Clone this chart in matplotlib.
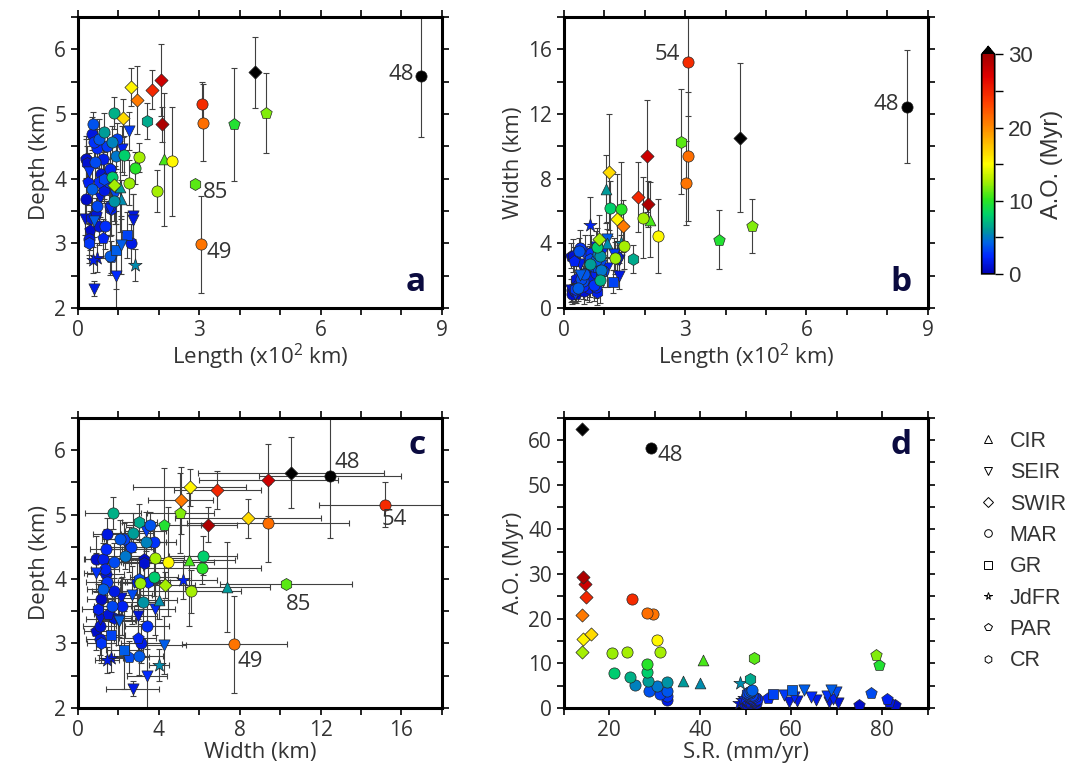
import numpy as np
import matplotlib
matplotlib.use('Agg')
import matplotlib.pyplot as plt
from matplotlib.colors import LinearSegmentedColormap, Normalize
from matplotlib.lines import Line2D
from matplotlib.ticker import MultipleLocator

plt.rcParams['font.family'] = ['Open Sans', 'DejaVu Sans']
plt.rcParams['mathtext.default'] = 'regular'
plt.rcParams['font.size'] = 13

# ridge of each segment
ridge = ['SWIR'] * 8 + ['CIR'] * 3 + ['MAR'] * 39 + ['CR'] * 8 + ['SEIR'] * 13 + \
        ['PAR'] * 8 + ['GR'] * 2 + ['JdFR'] * 4

# length (x100 km)
length = [4.37, 2.05, 2.08, 1.84, 1.46, 1.32, 1.11, 0.88,
          2.13, 1.05, 1.07,
          8.48, 3.07, 3.08, 3.03, 2.32, 1.96, 1.50, 1.26, 1.41, 1.14, 0.83, 0.89, 0.64,
          0.85, 0.93, 0.90,
          0.37, 0.97, 0.51, 0.39, 1.32,
          0.35, 0.47, 0.72, 0.21, 0.62, 0.43, 0.80, 0.57, 0.76, 0.35, 0.64, 0.21, 0.47,
          0.80, 0.51, 0.68, 0.27, 0.80,
          2.90, 1.70, 0.27, 0.82, 0.23, 0.52, 0.64, 0.31,
          1.25, 1.37, 1.36, 1.07, 0.95, 0.40, 0.28, 0.39, 0.91, 0.55, 0.18, 1.08, 0.80,
          4.66, 3.85, 0.62, 0.81, 0.19, 0.25, 0.45, 0.30,
          1.22, 0.93,
          1.41, 0.36, 0.48, 0.64]

# depth (km)
depth = [5.65, 5.53, 4.84, 5.38, 5.22, 5.42, 4.94, 3.91,
         4.30, 3.88, 3.68,
         5.59, 5.15, 4.87, 2.99, 4.27, 3.81, 4.33, 3.94, 4.17, 4.36, 4.03, 5.02, 4.72,
         4.57, 4.35, 3.65,
         4.84, 4.62, 4.62, 4.57, 3.00,
         4.70, 4.47, 4.50, 4.31, 4.31, 4.26, 4.15, 4.07, 3.95, 3.84, 3.82, 3.69, 3.58,
         3.58, 3.27, 3.27, 3.07, 2.81,
         3.92, 4.89, 3.00, 3.53, 4.25, 3.95, 4.00, 3.40,
         4.74, 3.42, 3.37, 2.97, 2.50, 2.30, 4.10, 3.35, 3.75, 3.71, 3.38, 4.46, 3.53,
         5.02, 4.84, 3.08, 2.79, 4.31, 3.95, 3.45, 3.20,
         3.13, 2.90,
         2.67, 2.75, 2.78, 3.99]

# width (km)
width = [10.55, 9.42, 6.44, 6.88, 5.08, 5.52, 8.42, 4.28,
         5.48, 7.38, 4.00,
         12.47, 15.20, 9.39, 7.74, 4.45, 5.58, 3.83, 3.08, 6.14, 6.18, 3.76, 1.74, 2.70,
         3.34, 2.35, 3.24,
         3.54, 2.28, 2.10, 3.74, 3.13,
         1.45, 1.37, 2.60, 0.88, 1.26, 1.80, 1.33, 1.37, 1.42, 1.26, 1.79, 1.13, 1.70,
         2.20, 1.07, 3.41, 1.08, 3.00,
         10.28, 3.04, 1.16, 1.00, 3.25, 3.45, 3.04, 1.80,
         3.34, 2.99, 2.00, 4.25, 3.42, 2.71, 0.90, 2.05, 2.68, 2.13, 1.10, 2.50, 3.79,
         5.07, 4.24, 2.95, 2.53, 3.25, 2.90, 1.50, 0.90,
         1.63, 2.30,
         4.00, 1.42, 1.64, 5.17]

# spreading rate (mm/yr)
spread = [14.0, 14.7, 14.3, 14.9, 14.0, 14.2, 16.0, 14.0,
          40.5, 36.3, 39.9,
          29.2, 25.1, 28.4, 29.7, 30.6, 31.1, 23.8, 20.5, 28.4, 28.4, 21.1, 24.5, 28.6,
          25.7, 30.6, 32.7,
          28.8, 31.1, 32.7, 32.7, 32.8,
          50.5, 51.0, 51.3, 50.0, 51.6, 50.8, 51.1, 52.2, 50.2, 51.4, 51.9, 50.6, 51.0,
          52.5, 50.9, 51.7, 50.4, 51.2,
          51.9, 51.0, 50.7, 51.5, 49.8, 52.0, 50.3, 51.8,
          58.5, 59.6, 61.2, 62.9, 64.4, 65.5, 67.8, 68.8, 69.9, 68.4, 70.2, 69.1, 60.5,
          78.6, 79.3, 54.8, 77.6, 74.9, 81.1, 81.5, 82.9,
          55.9, 60.2,
          48.7, 49.2, 48.6, 49.6]

# age offset (Myr)
age_off = [62.5, 27.8, 29.3, 24.8, 20.8, 15.4, 16.6, 12.6,
           10.7, 6.0, 5.6,
           58.3, 24.5, 21.3, 21.0, 15.3, 12.6, 12.6, 12.4, 9.9, 8.0, 7.9, 6.9, 6.1,
           5.2, 4.9, 5.8,
           3.7, 3.1, 3.8, 2.7, 1.7,
           1.5, 2.4, 3.0, 0.9, 1.8, 3.5, 2.2, 1.2, 2.8, 4.1, 1.6, 0.8, 3.3,
           2.0, 1.1, 2.6, 1.4, 3.9,
           11.1, 6.6, 2.9, 1.9, 1.0, 2.5, 3.3, 1.3,
           3.0, 1.3, 1.6, 4.1, 2.5, 1.7, 2.7, 4.1, 3.5, 1.3, 1.2, 2.1, 2.4,
           11.9, 9.7, 2.2, 3.4, 0.75, 2.0, 1.3, 0.75,
           3.2, 4.0,
           5.6, 1.8, 1.2, 2.2]

# depth uncertainty (km)
depth_err = [0.55, 0.56, 0.27, 0.30, 0.52, 0.29, 0.30, 0.20,
             1.03, 0.70, 0.30,
             0.95, 0.35, 0.60, 0.75, 0.84, 0.33, 0.22, 0.35, 0.25, 0.30, 0.30, 0.25, 0.30,
             0.25, 0.20, 0.30,
             0.20, 0.25, 0.30, 0.25, 0.30,
             0.25, 0.30, 0.20, 0.35, 0.25, 0.30, 0.40, 0.25, 0.30, 0.35, 0.20, 0.30, 0.25,
             0.45, 0.30, 0.35, 0.25, 0.30,
             0.00, 0.28, 0.30, 0.40, 0.25, 0.30, 0.35, 0.30,
             0.30, 0.35, 0.40, 0.45, 0.80, 0.12, 0.30, 0.25, 0.45, 0.30, 0.25, 0.35, 0.40,
             0.62, 0.88, 0.30, 0.25, 0.30, 0.35, 0.25, 0.30,
             0.35, 0.60,
             0.25, 0.20, 0.22, 0.30]

# width uncertainty (km)
width_err = [4.60, 3.45, 1.40, 2.15, 1.60, 2.80, 3.60, 1.50,
             2.30, 2.10, 0.90,
             3.50, 3.30, 4.00, 2.60, 2.30, 2.50, 1.40, 1.00, 2.90, 1.70, 1.20, 1.40, 1.00,
             1.00, 0.90, 1.00,
             0.80, 1.00, 0.90, 1.10, 1.00,
             0.70, 0.80, 1.00, 0.60, 0.90, 0.80, 0.70, 0.90, 1.00, 0.80, 1.10, 0.70, 0.90,
             1.00, 0.80, 1.10, 0.70, 1.20,
             3.25, 0.85, 0.70, 0.80, 1.00, 1.10, 0.90, 0.80,
             1.00, 0.90, 0.80, 1.10, 1.00, 1.30, 0.60, 0.80, 1.00, 0.90, 0.70, 1.20, 1.00,
             1.65, 1.85, 0.90, 1.00, 0.80, 0.90, 0.70, 0.60,
             0.70, 0.90,
             0.50, 0.60, 0.60, 1.70]

ridge_names = ['CIR', 'SEIR', 'SWIR', 'MAR', 'GR', 'JdFR', 'PAR', 'CR']
ridge_marker = {'CIR': '^', 'SEIR': 'v', 'SWIR': 'D', 'MAR': 'o',
                'GR': 's', 'JdFR': '*', 'PAR': 'p', 'CR': 'h'}
marker_size = {'^': 60, 'v': 65, 'D': 45, 'o': 65, 's': 50, '*': 100, 'p': 75, 'h': 75}

cmap = LinearSegmentedColormap.from_list('ao', [
    (0.00, '#0000b4'), (0.08, '#0028ff'), (0.14, '#0064e6'), (0.20, '#009a9a'),
    (0.27, '#00d26a'), (0.34, '#2ee61e'), (0.43, '#b4f000'), (0.50, '#ffff00'),
    (0.65, '#ff9600'), (0.78, '#ff4000'), (0.90, '#e00000'), (1.00, '#a00000')])
cmap.set_over('black')
norm = Normalize(0, 30)

ridge = np.array(ridge)
length = np.array(length)
depth = np.array(depth)
width = np.array(width)
spread = np.array(spread)
age_off = np.array(age_off)
depth_err = np.array(depth_err)
width_err = np.array(width_err)

fig = plt.figure(figsize=(10.8, 7.78), dpi=100)
ax_a = fig.add_axes([0.0722, 0.604, 0.337, 0.374])
ax_b = fig.add_axes([0.522, 0.604, 0.337, 0.374])
ax_c = fig.add_axes([0.0722, 0.090, 0.337, 0.373])
ax_d = fig.add_axes([0.522, 0.090, 0.337, 0.373])

ebar = dict(fmt='none', ecolor='0.25', elinewidth=0.8, capsize=2.2, capthick=0.8, zorder=1)


def points(ax, x, y):
    order = np.argsort(age_off)
    for i in order:
        m = ridge_marker[ridge[i]]
        ax.scatter(x[i], y[i], c=[age_off[i]], cmap=cmap, norm=norm, marker=m,
                   s=marker_size[m], edgecolors='0.15', linewidths=0.5, zorder=3)


ax_a.errorbar(length, depth, yerr=depth_err, **ebar)
points(ax_a, length, depth)
ax_b.errorbar(length, width, yerr=width_err, **ebar)
points(ax_b, length, width)
ax_c.errorbar(width, depth, xerr=width_err, yerr=depth_err, **ebar)
points(ax_c, width, depth)
points(ax_d, spread, age_off)

lab = dict(fontsize=16, color='#333333')
ax_a.text(8.3, 5.62, '48', ha='right', va='center', **lab)
ax_a.text(3.08, 3.78, '85', ha='left', va='center', **lab)
ax_a.text(3.18, 2.86, '49', ha='left', va='center', **lab)
ax_b.text(2.88, 15.7, '54', ha='right', va='center', **lab)
ax_b.text(8.3, 12.6, '48', ha='right', va='center', **lab)
ax_c.text(12.7, 5.8, '48', ha='left', va='center', **lab)
ax_c.text(15.0, 4.93, '54', ha='left', va='center', **lab)
ax_c.text(10.3, 3.6, '85', ha='left', va='center', **lab)
ax_c.text(7.9, 2.72, '49', ha='left', va='center', **lab)
ax_d.text(30.5, 56.5, '48', ha='left', va='center', **lab)

letter = dict(fontsize=24, fontweight='bold', color='#0b0b40')
ax_a.text(0.955, 0.03, 'a', transform=ax_a.transAxes, ha='right', va='bottom', **letter)
ax_b.text(0.955, 0.03, 'b', transform=ax_b.transAxes, ha='right', va='bottom', **letter)
ax_c.text(0.955, 0.96, 'c', transform=ax_c.transAxes, ha='right', va='top', **letter)
ax_d.text(0.955, 0.96, 'd', transform=ax_d.transAxes, ha='right', va='top', **letter)

ax_a.set_xlim(0, 9)
ax_a.set_ylim(2, 6.5)
ax_a.xaxis.set_major_locator(MultipleLocator(3))
ax_a.xaxis.set_minor_locator(MultipleLocator(1))
ax_a.yaxis.set_major_locator(MultipleLocator(1))
ax_a.yaxis.set_minor_locator(MultipleLocator(0.5))
ax_a.set_xlabel('Length (x10$^2$ km)')
ax_a.set_ylabel('Depth (km)')

ax_b.set_xlim(0, 9)
ax_b.set_ylim(0, 18)
ax_b.xaxis.set_major_locator(MultipleLocator(3))
ax_b.xaxis.set_minor_locator(MultipleLocator(1))
ax_b.yaxis.set_major_locator(MultipleLocator(4))
ax_b.yaxis.set_minor_locator(MultipleLocator(2))
ax_b.set_xlabel('Length (x10$^2$ km)')
ax_b.set_ylabel('Width (km)')

ax_c.set_xlim(0, 18)
ax_c.set_ylim(2, 6.5)
ax_c.xaxis.set_major_locator(MultipleLocator(4))
ax_c.xaxis.set_minor_locator(MultipleLocator(2))
ax_c.yaxis.set_major_locator(MultipleLocator(1))
ax_c.yaxis.set_minor_locator(MultipleLocator(0.5))
ax_c.set_xlabel('Width (km)')
ax_c.set_ylabel('Depth (km)')

ax_d.set_xlim(10, 90)
ax_d.set_ylim(0, 65)
ax_d.xaxis.set_major_locator(MultipleLocator(20))
ax_d.xaxis.set_minor_locator(MultipleLocator(10))
ax_d.yaxis.set_major_locator(MultipleLocator(10))
ax_d.yaxis.set_minor_locator(MultipleLocator(5))
ax_d.set_xlabel('S.R. (mm/yr)')
ax_d.set_ylabel('A.O. (Myr)')

for ax in [ax_a, ax_b, ax_c, ax_d]:
    for s in ax.spines.values():
        s.set_linewidth(2.2)
    ax.tick_params(which='both', direction='out', top=True, right=True,
                   width=1.2, labelsize=15, colors='black', labelcolor='#333333')
    ax.tick_params(which='major', length=5)
    ax.tick_params(which='minor', length=5)
    ax.xaxis.label.set_color('#333333')
    ax.yaxis.label.set_color('#333333')
    ax.xaxis.label.set_size(16)
    ax.yaxis.label.set_size(16)
    ax.xaxis.labelpad = 1
    ax.yaxis.labelpad = 3

# colorbar
cax = fig.add_axes([0.909, 0.648, 0.012, 0.292])
sm = plt.cm.ScalarMappable(cmap=cmap, norm=norm)
cb = fig.colorbar(sm, cax=cax, extend='max', extendfrac=0.035)
cb.set_ticks([0, 10, 20, 30])
cb.ax.yaxis.set_minor_locator(MultipleLocator(5))
cb.ax.tick_params(which='both', length=6, width=1, labelsize=16,
                  labelcolor='#333333', labelfontfamily='Liberation Sans')
cb.outline.set_linewidth(1.2)
cb.set_label('A.O. (Myr)', fontsize=17, color='#333333', family='Liberation Sans', labelpad=6)

# ridge legend
handles = [Line2D([], [], linestyle='none', marker=ridge_marker[r], markersize=5.5,
                  markerfacecolor='none', markeredgecolor='black', markeredgewidth=0.7)
           for r in ridge_names]
fig.legend(handles, ridge_names, loc='upper left', bbox_to_anchor=(0.889, 0.471),
           frameon=False, handlelength=0.8, handletextpad=0.6, labelspacing=0.48,
           prop={'family': 'Liberation Sans', 'size': 15.5}, labelcolor='#333333')

plt.savefig('out.png', dpi=100)
